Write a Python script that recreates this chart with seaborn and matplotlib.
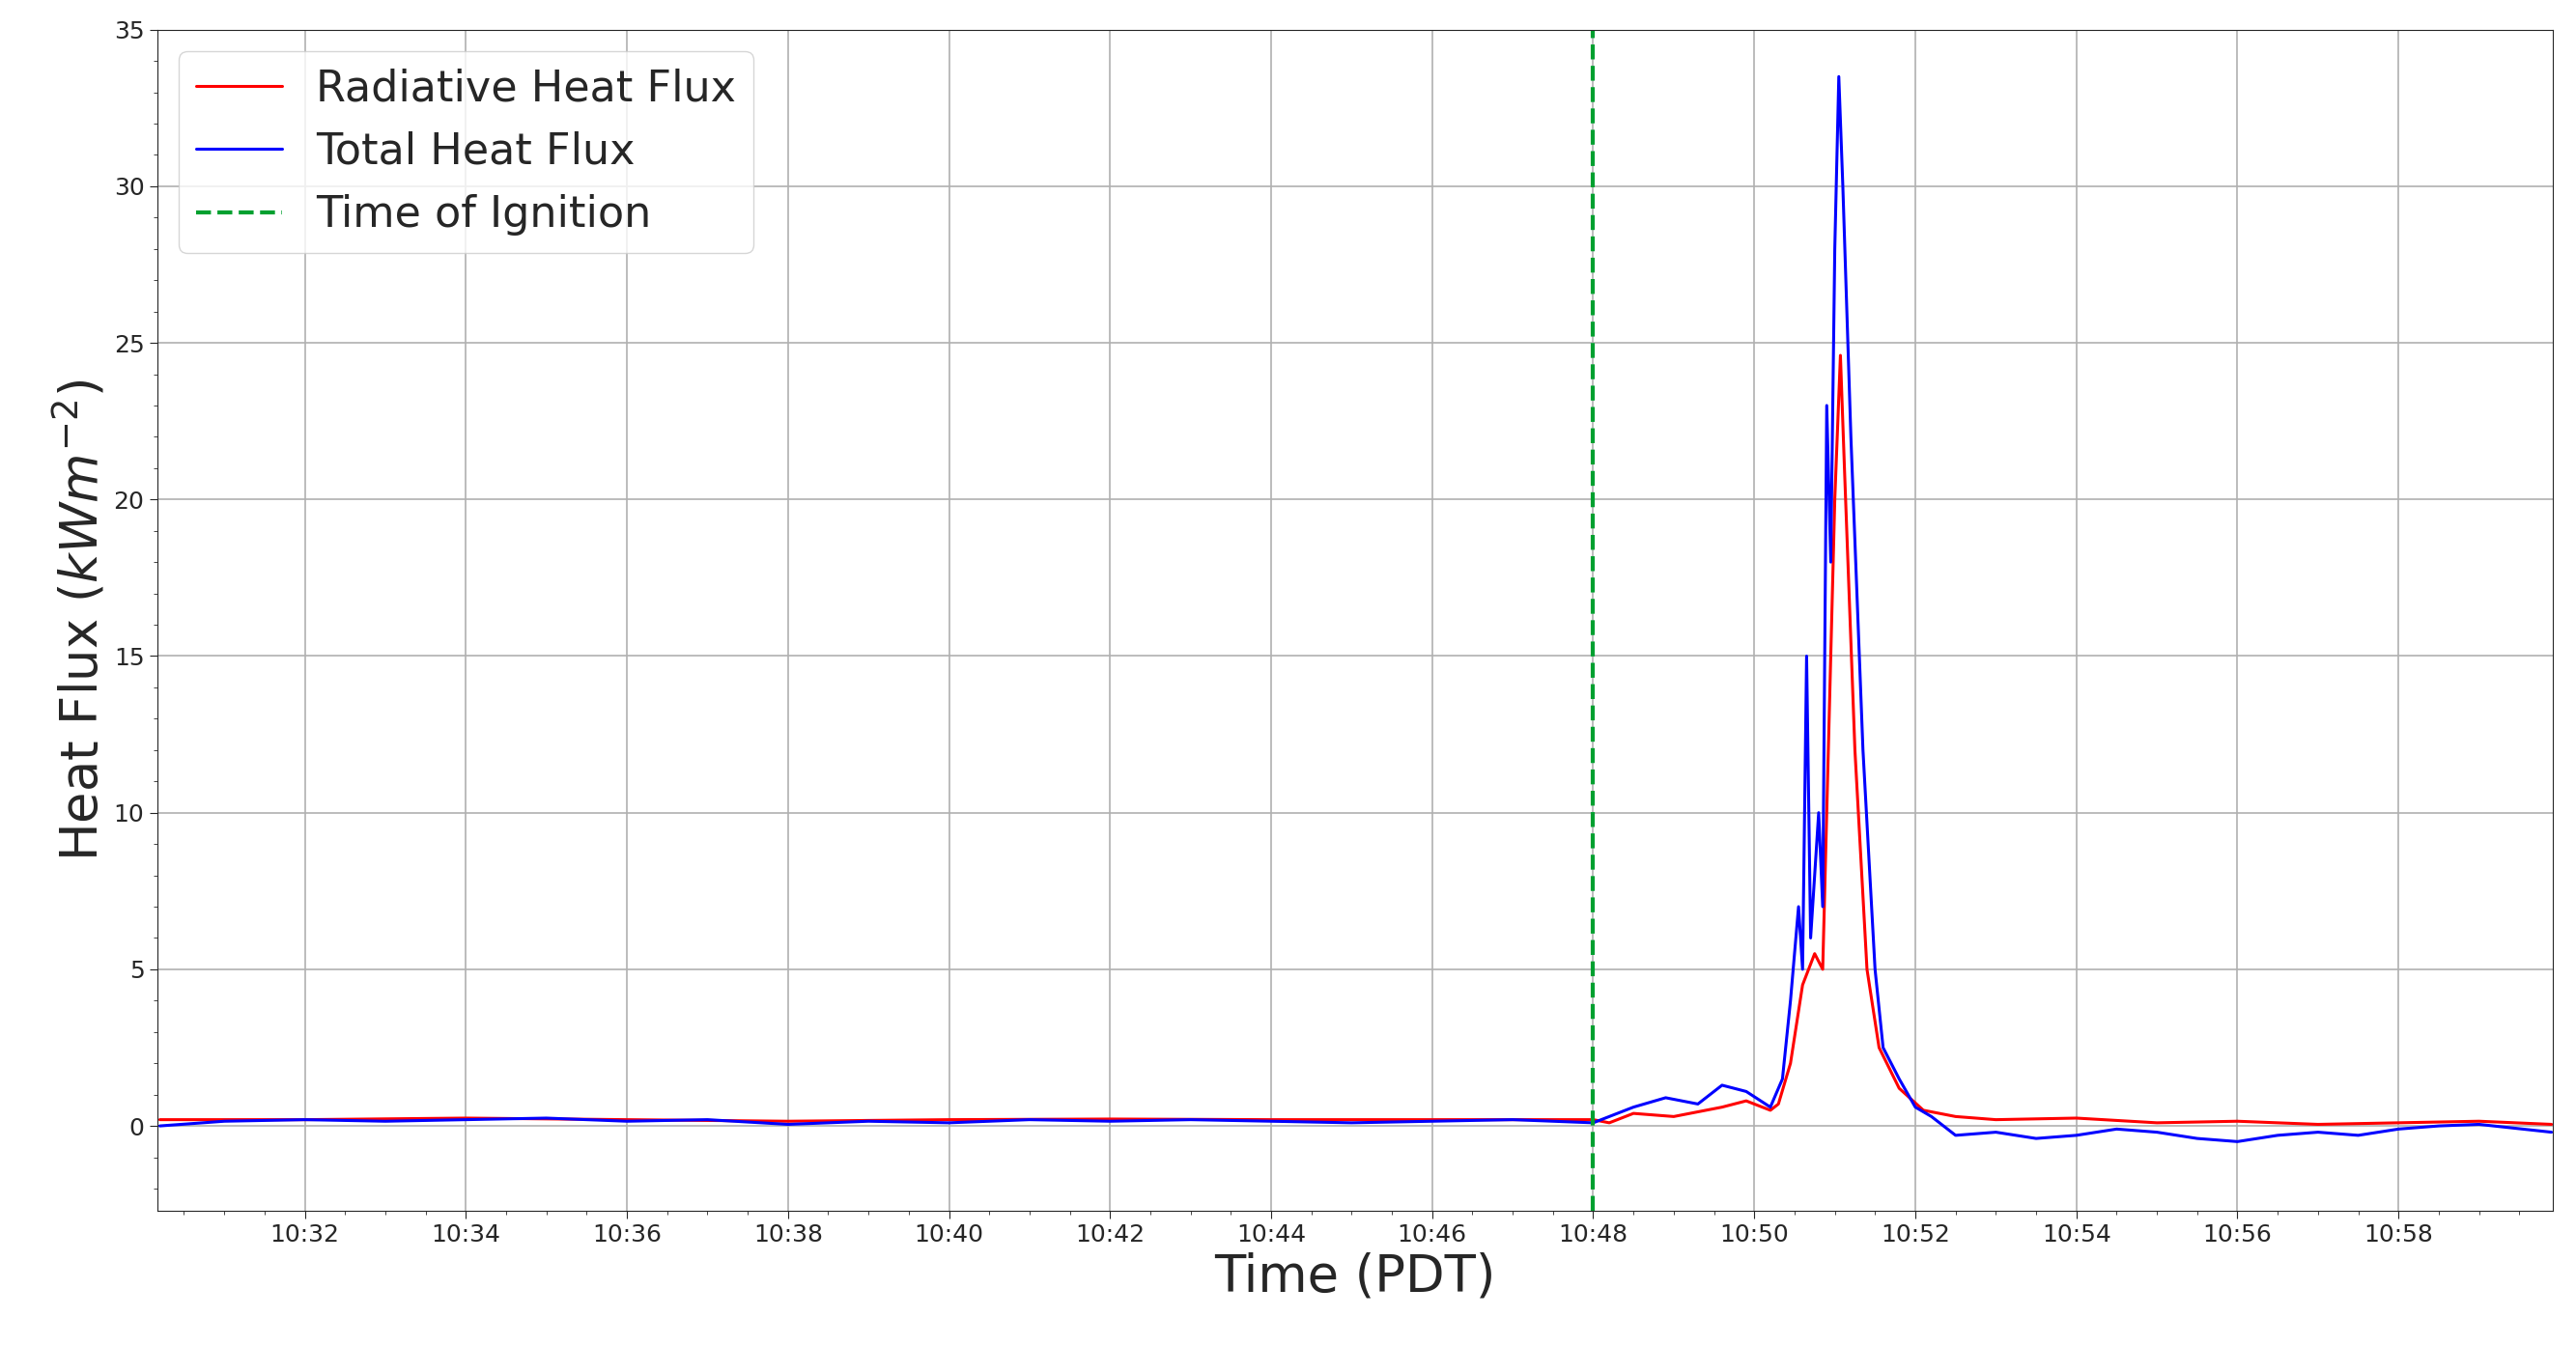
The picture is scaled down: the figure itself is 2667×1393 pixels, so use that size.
import pandas as pd
import matplotlib
matplotlib.use("Agg")
import matplotlib.pyplot as plt
import matplotlib.dates as mdates
from matplotlib.ticker import MultipleLocator
import seaborn as sns

# minutes after 10:30
rad_min = [0.2, 2, 4, 6, 8, 10, 12, 14, 16, 18, 18.2, 18.5, 19, 19.6, 19.9, 20.2, 20.3, 20.45, 20.6,
           20.75, 20.85, 20.9, 21.0, 21.07, 21.12, 21.25, 21.4, 21.55, 21.8, 22.1, 22.5, 23, 24,
           25, 26, 27, 28, 29, 29.9]
rad_val = [0.2, 0.2, 0.25, 0.2, 0.15, 0.2, 0.22, 0.2, 0.2, 0.2, 0.1, 0.4, 0.3, 0.6, 0.8, 0.5, 0.7,
           2.0, 4.5, 5.5, 5.0, 10, 20, 24.6, 21, 12, 5, 2.5, 1.2, 0.5, 0.3, 0.2, 0.25, 0.1, 0.15,
           0.05, 0.1, 0.15, 0.05]

tot_min = [0.2, 1, 2, 3, 4, 5, 6, 7, 8, 9, 10, 11, 12, 13, 14, 15, 16, 17, 18, 18.5, 18.9, 19.3,
           19.6, 19.9, 20.2, 20.35, 20.45, 20.55, 20.6, 20.65, 20.7, 20.8, 20.85, 20.9, 20.95,
           21.0, 21.05, 21.1, 21.2, 21.35, 21.5, 21.6, 21.8, 22.0, 22.2, 22.5, 23, 23.5, 24,
           24.5, 25, 25.5, 26, 26.5, 27, 27.5, 28, 28.5, 29, 29.9]
tot_val = [0.0, 0.15, 0.2, 0.15, 0.2, 0.25, 0.15, 0.2, 0.05, 0.15, 0.1, 0.2, 0.15, 0.2, 0.15,
           0.1, 0.15, 0.2, 0.1, 0.6, 0.9, 0.7, 1.3, 1.1, 0.6, 1.5, 4.0, 7.0, 5.0, 15.0, 6.0, 10.0,
           7.0, 23.0, 18.0, 28.0, 33.5, 30.0, 22.0, 12.0, 5.0, 2.5, 1.5, 0.6, 0.3, -0.3, -0.2,
           -0.4, -0.3, -0.1, -0.2, -0.4, -0.5, -0.3, -0.2, -0.3, -0.1, 0.0, 0.05, -0.2]

t0 = pd.Timestamp("2019-06-01 10:30:00")
rad = pd.DataFrame({"t": t0 + pd.to_timedelta(rad_min, unit="min"), "v": rad_val})
tot = pd.DataFrame({"t": t0 + pd.to_timedelta(tot_min, unit="min"), "v": tot_val})
ignition = t0 + pd.Timedelta(minutes=18)

sns.set_style("ticks")
fig = plt.figure(figsize=(26.67, 13.93), dpi=100)
ax = fig.add_axes([0.061, 0.10, 0.93, 0.878])

sns.lineplot(data=rad, x="t", y="v", color="red", linewidth=2.2, label="Radiative Heat Flux", ax=ax)
sns.lineplot(data=tot, x="t", y="v", color="blue", linewidth=2.2, label="Total Heat Flux", ax=ax)
ax.axvline(ignition, color="#00a030", linestyle="--", linewidth=3, label="Time of Ignition")

ax.set_xlim(t0 + pd.Timedelta(seconds=10), t0 + pd.Timedelta(minutes=29, seconds=55))
ax.set_ylim(-2.7, 35)
ax.xaxis.set_major_locator(mdates.MinuteLocator(byminute=range(0, 60, 2)))
ax.xaxis.set_minor_locator(mdates.SecondLocator(bysecond=[0, 30]))
ax.xaxis.set_major_formatter(mdates.DateFormatter("%H:%M"))
ax.yaxis.set_major_locator(MultipleLocator(5))
ax.yaxis.set_minor_locator(MultipleLocator(1))
ax.tick_params(labelsize=18, length=6)
ax.tick_params(which="minor", length=3)
ax.grid(True, which="major", color="#b0b0b0", linewidth=1.2)

ax.set_xlabel("Time (PDT)", fontsize=38)
ax.set_ylabel("Heat Flux ($kWm^{-2}$)", fontsize=38)
ax.legend(loc="upper left", fontsize=32, handlelength=2)

fig.savefig("out.png", dpi=100)
